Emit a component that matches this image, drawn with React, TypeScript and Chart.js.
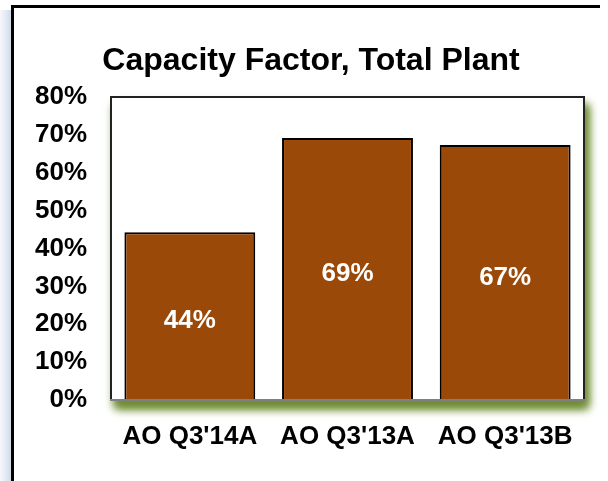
import React, { useEffect, useRef } from "react";
import { Chart, registerables } from "chart.js";

Chart.register(...registerables);

const categories = ["AO Q3'14A", "AO Q3'13A", "AO Q3'13B"];
const values = [44.3, 69.2, 67.3];
const valueLabels = ["44%", "69%", "67%"];
const yTicks = [0, 10, 20, 30, 40, 50, 60, 70, 80];
const titleText = "Capacity Factor, Total Plant";

const FONT = "'Liberation Sans', Arial, Helvetica, sans-serif";

const framePlugin = {
  id: "frame",
  beforeDraw(chart: any) {
    const ctx = chart.ctx;
    const { width, height } = chart;
    ctx.save();
    ctx.fillStyle = "#ffffff";
    ctx.fillRect(0, 0, width, height);
    // bluish shadow left of the frame
    const g = ctx.createLinearGradient(0, 0, 11, 0);
    g.addColorStop(0, "rgba(225,232,242,0.3)");
    g.addColorStop(1, "rgba(205,216,232,1)");
    ctx.fillStyle = g;
    ctx.fillRect(0, 10, 11, height - 10);
    // frame lines
    ctx.fillStyle = "#000000";
    ctx.fillRect(11, 5, 3, height - 5);
    ctx.fillRect(11, 5, 589, 3);
    // title
    ctx.fillStyle = "#000000";
    ctx.font = `bold 32px ${FONT}`;
    ctx.textAlign = "center";
    ctx.textBaseline = "middle";
    ctx.fillText(titleText, 311, 61);
    ctx.restore();
  },
  beforeDatasetsDraw(chart: any) {
    const ctx = chart.ctx;
    const a = chart.chartArea;
    for (let k = 0; k < 2; k++) {
      ctx.save();
      ctx.shadowColor = "rgba(112,142,52,1)";
      ctx.shadowBlur = 9;
      ctx.shadowOffsetX = 4;
      ctx.shadowOffsetY = 8;
      ctx.fillStyle = "#ffffff";
      ctx.fillRect(a.left, a.top, a.right - a.left, a.bottom - a.top);
      ctx.restore();
    }
    ctx.save();
    ctx.strokeStyle = "#222222";
    ctx.lineWidth = 2;
    ctx.beginPath();
    ctx.moveTo(a.left, a.bottom);
    ctx.lineTo(a.left, a.top);
    ctx.lineTo(a.right, a.top);
    ctx.lineTo(a.right, a.bottom);
    ctx.stroke();
    ctx.restore();
  },
  afterDatasetsDraw(chart: any) {
    const ctx = chart.ctx;
    const a = chart.chartArea;
    ctx.save();
    ctx.strokeStyle = "#808080";
    ctx.lineWidth = 2;
    ctx.beginPath();
    ctx.moveTo(a.left - 1, a.bottom);
    ctx.lineTo(a.right + 1, a.bottom);
    ctx.stroke();
    const meta = chart.getDatasetMeta(0);
    ctx.fillStyle = "#ffffff";
    ctx.font = `bold 26px ${FONT}`;
    ctx.textAlign = "center";
    ctx.textBaseline = "middle";
    meta.data.forEach((el: any, i: number) => {
      const y = (el.y + el.base) / 2 + 5;
      ctx.fillText(valueLabels[i], el.x, y);
    });
    ctx.restore();
  },
};

export default function App() {
  const ref = useRef<HTMLCanvasElement | null>(null);
  useEffect(() => {
    if (!ref.current) return;
    const chart = new Chart(ref.current, {
      type: "bar",
      data: {
        labels: categories,
        datasets: [
          {
            data: values,
            backgroundColor: "#9a4908",
            borderColor: "#000000",
            borderWidth: 2,
            categoryPercentage: 1,
            barPercentage: 0.83,
          },
        ],
      },
      options: {
        animation: false,
        responsive: false,
        layout: { padding: { top: 97, right: 24, left: 0, bottom: 0 } },
        plugins: {
          legend: { display: false },
          tooltip: { enabled: false },
          title: { display: false },
        },
        scales: {
          x: {
            grid: { display: false, drawTicks: false },
            border: { display: false },
            ticks: {
              color: "#000000",
              padding: 21,
              font: { family: FONT, size: 26, weight: "bold" },
            },
            afterFit: (s: any) => {
              s.height = 81;
            },
          },
          y: {
            min: 0,
            max: 80,
            grid: { display: false, drawTicks: false },
            border: { display: false },
            afterBuildTicks: (s: any) => {
              s.ticks = yTicks.map((v) => ({ value: v }));
            },
            ticks: {
              color: "#000000",
              padding: 24,
              font: { family: FONT, size: 26, weight: "bold" },
              callback: (v: any) => `${v}%`,
            },
            afterFit: (s: any) => {
              s.width = 111;
            },
          },
        },
      },
      plugins: [framePlugin],
    });
    return () => chart.destroy();
  }, []);
  return (
    <div style={{ position: "absolute", left: 0, top: 0, width: 608, height: 481 }}>
      <canvas ref={ref} width={608} height={481} style={{ display: "block" }} />
    </div>
  );
}
